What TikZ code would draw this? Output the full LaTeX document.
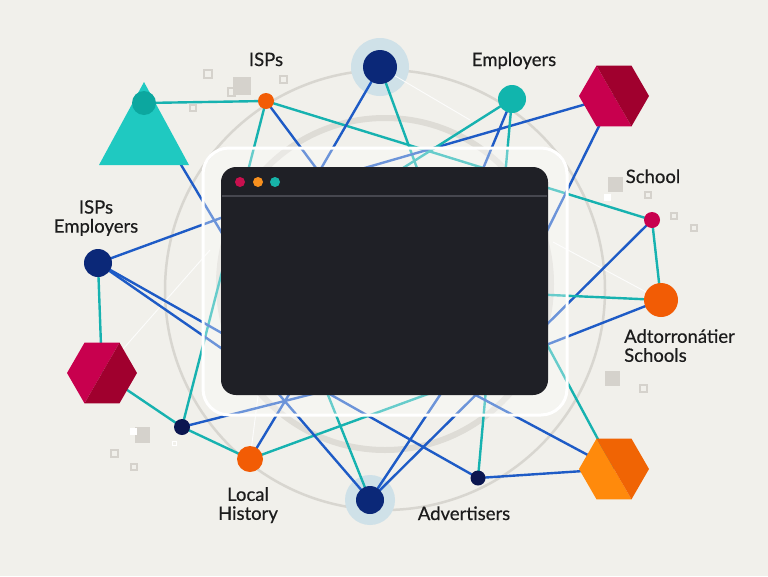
\documentclass[tikz,border=0pt]{standalone}
\usepackage{fontspec}
\setmainfont{Lato}[FakeBold=0.5]
\usetikzlibrary{calc}
\pgfdeclarelayer{back}
\pgfdeclarelayer{lines}
\pgfsetlayers{back,lines,main}
\definecolor{bgc}{HTML}{F1F0EB}
\definecolor{ring1}{HTML}{D8D6D0}
\definecolor{ring2}{HTML}{DEDCD6}
\definecolor{bluec}{HTML}{1E5BC6}
\definecolor{tealc}{HTML}{17B2B0}
\definecolor{navy}{HTML}{0B2878}
\definecolor{navyd}{HTML}{0B1650}
\definecolor{haloc}{HTML}{CFE1E8}
\definecolor{orangec}{HTML}{F25C05}
\definecolor{crim}{HTML}{C8004E}
\definecolor{crimd}{HTML}{A0002E}
\definecolor{hexo}{HTML}{FF8A0C}
\definecolor{hexod}{HTML}{F06404}
\definecolor{empt}{HTML}{11B5AD}
\definecolor{trif}{HTML}{1FC9C1}
\definecolor{tric}{HTML}{0CA79F}
\definecolor{winc}{HTML}{1F2026}
\definecolor{hdrc}{HTML}{46474F}
\definecolor{sqc}{HTML}{D5D2CC}
\definecolor{txtc}{HTML}{1C1C1C}
\definecolor{dotr}{HTML}{C8104E}
\definecolor{doto}{HTML}{F7901E}
\definecolor{dott}{HTML}{17B3A8}
\begin{document}
\begin{tikzpicture}[x=1pt,y=-1pt,
  dotn/.style={circle,inner sep=0pt,draw=none},
  hexn/.style={circle,inner sep=0pt,minimum size=56pt,draw=none},
  blueln/.style={draw=bluec,line width=2.4pt},
  tealln/.style={draw=tealc,line width=2.4pt},
  whiteln/.style={draw=white,line width=0.9pt,opacity=0.85},
  lab/.style={text=txtc,inner sep=0pt,font=\fontsize{18.5}{19}\selectfont,align=center},
  labl/.style={text=txtc,inner sep=0pt,font=\fontsize{18.5}{19}\selectfont,align=left},
  sqo/.style={draw=sqc,line width=1.2pt},
  sqf/.style={fill=sqc}]
\useasboundingbox (0,0) rectangle (768,576);

% ---------- nodes ----------
\fill[trif] (144,82) -- (189,165) -- (99,165) -- cycle;
\node[dotn,fill=tric,minimum size=24pt] (tc) at (144,103) {};
\node[dotn,fill=orangec,minimum size=16pt] (isp) at (266,101) {};
\node[dotn,fill=navy,minimum size=34pt] (tn) at (380,67) {};
\node[dotn,fill=empt,minimum size=28pt] (emp) at (512,99) {};
\node[hexn] (htr) at (614,96) {};
\node[dotn,fill=crim,minimum size=16pt] (sch) at (652,220) {};
\node[dotn,fill=orangec,minimum size=34pt] (orr) at (661,300) {};
\node[dotn,fill=navy,minimum size=28pt] (ln) at (98,263) {};
\node[hexn] (hl) at (102,373) {};
\node[dotn,fill=navyd,minimum size=16pt] (sn) at (182,427) {};
\node[dotn,fill=orangec,minimum size=26pt] (lh) at (250,459) {};
\node[dotn,fill=navy,minimum size=28pt] (bn) at (370,500) {};
\node[dotn,fill=navyd,minimum size=15pt] (ad) at (478,478) {};
\node[hexn] (hbr) at (614,469) {};

% hexagons
\begin{scope}[shift={(htr.center)}]
  \fill[crim] (-17.5,-30.3) -- (-35,0) -- (-17.5,30.3) -- (17.5,30.3) -- cycle;
  \fill[crimd] (-17.5,-30.3) -- (17.5,-30.3) -- (35,0) -- (17.5,30.3) -- cycle;
\end{scope}
\begin{scope}[shift={(hl.center)}]
  \fill[crim] (-17.5,-30.3) -- (17.5,-30.3) -- (-17.5,30.3) -- (-35,0) -- cycle;
  \fill[crimd] (17.5,-30.3) -- (35,0) -- (17.5,30.3) -- (-17.5,30.3) -- cycle;
\end{scope}
\begin{scope}[shift={(hbr.center)}]
  \fill[hexo] (-17.5,-30.3) -- (-35,0) -- (-17.5,30.3) -- (17.5,30.3) -- cycle;
  \fill[hexod] (-17.5,-30.3) -- (17.5,-30.3) -- (35,0) -- (17.5,30.3) -- cycle;
\end{scope}

% hidden end points under the window
\coordinate (kv) at (319,172);
\coordinate (kln) at (330,178);
\coordinate (ktn) at (425,190);
\coordinate (kemp1) at (392,175);
\coordinate (kemp2) at (470,200);
\coordinate (khtr) at (540,245);
\coordinate (korr1) at (440,290);
\coordinate (korr2) at (500,363);
\coordinate (khbr1) at (515,285);
\coordinate (khbr2) at (440,376);
\coordinate (ktri) at (250,280);
\coordinate (kln2) at (260,375);
\coordinate (klh1) at (305,368);
\coordinate (klh2) at (480,375);
\coordinate (kbn1) at (270,384);
\coordinate (kbn2) at (318,370);
\coordinate (ksn) at (340,387);
\coordinate (w1) at (210,250);
\coordinate (w2) at (470,120);
\coordinate (w3) at (553,242);
\coordinate (w4) at (258,396);

% ---------- labels ----------
\node[lab,anchor=base] (tISP) at (266,66) {ISPs};
\node[lab,anchor=base] (tEmp) at (514,66) {Employers};
\node[lab,anchor=north] (tIE) at (96,200) {ISPs\\Employers};
\node[lab,anchor=base] (tSch) at (653,183) {School};
\node[labl,anchor=north west] (tAd) at (624,329) {Adtorronátier\\Schools};
\node[lab,anchor=north] (tLH) at (248,487) {Local\\History};
\node[lab,anchor=base] (tAdv) at (464,520) {Advertisers};

% ---------- window ----------
\draw[white,line width=3pt,fill=white,fill opacity=0.35,rounded corners=26pt] (203,148) rectangle (567,415);
\fill[winc,rounded corners=15pt] (221,167) rectangle (548,395);
\draw[hdrc,line width=1.5pt] (222,196) -- (547,196);
\fill[dotr] (240,182) circle[radius=5pt];
\fill[doto] (258,182) circle[radius=5pt];
\fill[dott] (275,182) circle[radius=5pt];

% ---------- background ----------
\begin{pgfonlayer}{back}
  \fill[bgc] (0,0) rectangle (768,576);
  \draw[ring1,line width=2.5pt] (385,290) circle[radius=220pt];
  \draw[ring2,line width=6pt] (385,284) circle[radius=166pt];
  \fill[haloc] (tn.center) circle[radius=29pt];
  \fill[haloc] (bn.center) circle[radius=25pt];
  % decorative squares
  \draw[sqo] (204,70) rectangle (212,78);
  \fill[sqc] (233,77) rectangle (251,95);
  \draw[sqo] (228,88) rectangle (235,96);
  \draw[sqo] (280,76) rectangle (287,83);
  \draw[sqo] (190,105) rectangle (196,111);
  \fill[sqc] (608,177) rectangle (623,192);
  \fill[white] (604,194) rectangle (611,201);
  \draw[sqo] (645,192) rectangle (651,198);
  \draw[sqo] (671,213) rectangle (677,219);
  \draw[sqo] (691,225) rectangle (697,231);
  \fill[sqc] (605,371) rectangle (620,386);
  \draw[sqo] (640,385) rectangle (647,392);
  \fill[sqc] (135,427) rectangle (150,443);
  \fill[white] (130,428) rectangle (137,435);
  \draw[sqo] (111,450) rectangle (118,457);
  \draw[sqo] (131,464) rectangle (137,470);
  \draw[draw=white,line width=1pt] (172,441) rectangle (176,445);
\end{pgfonlayer}

% ---------- connectors ----------
\begin{pgfonlayer}{lines}
  \draw[whiteln] (hl.center) -- (w1);
  \draw[whiteln] (tn.center) -- (w2);
  \draw[whiteln] (orr.center) -- (w3);
  \draw[whiteln] (lh.center) -- (w4);
  \draw[tealln] (tc.center) -- (isp.center);
  \draw[tealln] (isp.center) -- (sn.center);
  \draw[tealln] (isp.center) -- (sch.center);
  \draw[blueln] (isp.center) -- (kv);
  \draw[blueln] (tn.center) -- (kv);
  \draw[tealln] (tn.center) -- (ktn);
  \draw[blueln] (ln.center) -- (kln) -- (htr.center);
  \draw[tealln] (emp.center) -- (kemp1);
  \draw[blueln] (emp.center) -- (kemp2);
  \draw[tealln] (emp.center) -- (ad.center);
  \draw[blueln] (htr.center) -- (khtr) -- (bn.center);
  \draw[blueln] (sch.center) -- (bn.center);
  \draw[tealln] (sch.center) -- (orr.center);
  \draw[tealln] (orr.center) -- (korr1);
  \draw[blueln] (orr.center) -- (korr2);
  \draw[tealln] (hbr.center) -- (khbr1);
  \draw[blueln] (hbr.center) -- (khbr2);
  \draw[blueln] (ad.center) -- (hbr.center);
  \draw[blueln] (ln.center) -- (ad.center);
  \draw[blueln] (ln.center) -- (kln2);
  \draw[blueln] (tc.center) -- (ktri);
  \draw[tealln] (ln.center) -- (hl.center);
  \draw[tealln] (hl.center) -- (sn.center);
  \draw[tealln] (sn.center) -- (lh.center);
  \draw[blueln] (sn.center) -- (ksn);
  \draw[blueln] (lh.center) -- (klh1);
  \draw[tealln] (lh.center) -- (klh2);
  \draw[blueln] (bn.center) -- (kbn1);
  \draw[tealln] (bn.center) -- (kbn2);
\end{pgfonlayer}
\end{tikzpicture}
\end{document}
